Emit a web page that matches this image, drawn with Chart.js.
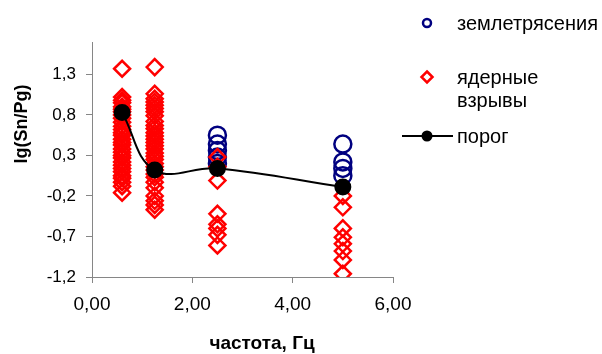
<!DOCTYPE html>
<html>
<head>
<meta charset="utf-8">
<script src="https://cdn.jsdelivr.net/npm/chart.js@4.4.0/dist/chart.umd.min.js"></script>
<style>
  body { margin: 0; background: #fff; }
  #wrap { width: 602px; height: 354px; }
</style>
</head>
<body>
<div id="wrap"><canvas id="myChart"></canvas></div>
<script>
// частоты, Гц
const freqs = [0.6, 1.25, 2.5, 5.0];

// землетрясения, по частотам
const quakes = [
  [],
  [],
  [0.55, 0.44, 0.36, 0.28, 0.2],
  [0.44, 0.22, 0.14, 0.05]
];

// ядерные взрывы, по частотам
const blasts = [
  [1.37, 1.02, 0.98, 0.95, 0.9, 0.87, 0.84, 0.8, 0.76, 0.71, 0.66, 0.62, 0.58, 0.55, 0.5,
   0.46, 0.43, 0.38, 0.34, 0.3, 0.27, 0.22, 0.18, 0.14, 0.1, 0.05, 0.02, -0.03, -0.08, -0.16],
  [1.39, 1.06, 1.0, 0.96, 0.92, 0.88, 0.84, 0.79, 0.72, 0.67, 0.63, 0.58, 0.54, 0.5, 0.46,
   0.42, 0.38, 0.33, 0.29, 0.25, 0.2, 0.16, 0.12, 0.07, 0.03, -0.03, -0.1, -0.2, -0.26, -0.31, -0.37],
  [0.28, 0.16, -0.01, -0.42, -0.55, -0.6, -0.68, -0.81],
  [-0.2, -0.34, -0.6, -0.71, -0.79, -0.88, -0.99, -1.16]
];

// порог
const threshold = [0.83, 0.12, 0.14, -0.09];

const yTicks = [-1.2, -0.7, -0.2, 0.3, 0.8, 1.3];
const xTicks = [0, 2, 4, 6];

const FONT = 'Liberation Sans, Arial, sans-serif';
const AXIS = '#868686';

const quakePts = freqs.flatMap((f, i) => quakes[i].map(v => ({ x: f, y: v })));
const blastPts = freqs.flatMap((f, i) => blasts[i].map(v => ({ x: f, y: v })));
const thrPts = freqs.map((f, i) => ({ x: f, y: threshold[i] }));

// подписи осей и легенда рисуются вручную
const extras = {
  id: 'extras',
  afterDraw(chart) {
    const c = chart.ctx;
    c.save();
    c.fillStyle = '#000';
    c.textBaseline = 'middle';

    c.font = 'bold 18px ' + FONT;
    c.textAlign = 'center';
    c.save();
    c.translate(22, 124);
    c.rotate(-Math.PI / 2);
    c.fillText('lg(Sn/Pg)', 0, 0);
    c.restore();

    c.font = 'bold 19px ' + FONT;
    c.fillText('частота, Гц', 262, 344);

    // легенда
    c.textAlign = 'left';
    c.font = '20px ' + FONT;

    c.strokeStyle = '#000080';
    c.lineWidth = 2.5;
    c.beginPath();
    c.arc(427, 23, 4, 0, Math.PI * 2);
    c.stroke();
    c.fillText('землетрясения', 457, 24);

    c.strokeStyle = '#ff0000';
    c.lineWidth = 2.5;
    c.beginPath();
    c.moveTo(427, 71.5); c.lineTo(432.5, 77); c.lineTo(427, 82.5); c.lineTo(421.5, 77);
    c.closePath();
    c.stroke();
    c.fillText('ядерные', 457, 78);
    c.fillText('взрывы', 457, 101);

    c.strokeStyle = '#000';
    c.lineWidth = 2;
    c.beginPath();
    c.moveTo(402, 136); c.lineTo(453, 136);
    c.stroke();
    c.beginPath();
    c.arc(427, 136, 5.5, 0, Math.PI * 2);
    c.fill();
    c.fillText('порог', 457, 137);
    c.restore();
  }
};

const ctx = document.getElementById('myChart').getContext('2d');
const myChart = new Chart(ctx, {
  type: 'scatter',
  data: {
    datasets: [
      {
        label: 'порог',
        data: thrPts,
        showLine: true,
        tension: 0.4,
        borderColor: '#000',
        borderWidth: 2,
        backgroundColor: '#000',
        pointBackgroundColor: '#000',
        pointBorderColor: '#000',
        pointRadius: 7.5,
        order: 0
      },
      {
        label: 'ядерные взрывы',
        data: blastPts,
        pointStyle: 'rectRot',
        pointRadius: 8,
        pointBorderWidth: 2.5,
        borderColor: '#ff0000',
        backgroundColor: 'rgba(0,0,0,0)',
        order: 1
      },
      {
        label: 'землетрясения',
        data: quakePts,
        pointStyle: 'circle',
        pointRadius: 8.5,
        pointBorderWidth: 2.5,
        borderColor: '#000080',
        backgroundColor: 'rgba(0,0,0,0)',
        order: 2
      }
    ]
  },
  options: {
    responsive: true,
    maintainAspectRatio: false,
    animation: false,
    events: [],
    layout: { padding: { top: 42, right: 209, left: 0, bottom: 0 } },
    plugins: { legend: { display: false }, tooltip: { enabled: false } },
    scales: {
      x: {
        type: 'linear',
        min: 0,
        max: 6,
        afterBuildTicks: s => { s.ticks = xTicks.map(v => ({ value: v })); },
        afterFit: s => { s.height = 77; },
        ticks: {
          color: '#000',
          font: { family: FONT, size: 19 },
          padding: 10,
          maxRotation: 0,
          callback: v => v.toFixed(2).replace('.', ',')
        },
        grid: { drawOnChartArea: false, drawTicks: true, tickLength: 6, color: AXIS },
        border: { color: AXIS, width: 1 }
      },
      y: {
        min: -1.2,
        max: 1.7,
        afterBuildTicks: s => { s.ticks = yTicks.map(v => ({ value: v })); },
        afterFit: s => { s.width = 92; },
        ticks: {
          color: '#000',
          font: { family: FONT, size: 17 },
          padding: 10,
          callback: v => v.toFixed(1).replace('.', ',')
        },
        grid: { drawOnChartArea: false, drawTicks: true, tickLength: 6, color: AXIS },
        border: { color: AXIS, width: 1 }
      }
    }
  },
  plugins: [extras]
});
</script>
</body>
</html>
